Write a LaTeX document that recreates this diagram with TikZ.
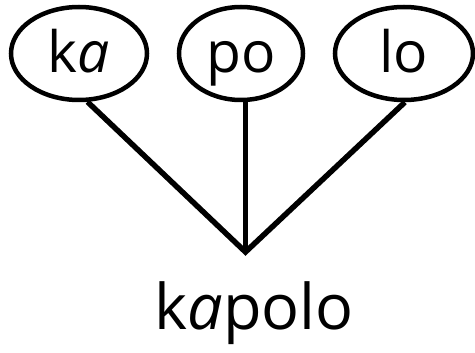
\documentclass[tikz,border=0pt]{standalone}
\usepackage{fontspec}
\setmainfont{Open Sans}
\usetikzlibrary{shapes.geometric}
\begin{document}
\begin{tikzpicture}[x=1pt,y=-1pt,
  syl/.style={draw=black,line width=4.5pt,ellipse,inner sep=0pt,minimum height=93pt,
    text height=44pt,text depth=6pt,font=\fontsize{57}{57}\selectfont},
  link/.style={draw=black,line width=5.5pt}]
\useasboundingbox (0,0) rectangle (475,353);
\node[syl,minimum width=136pt] (ka) at (79,53.5) {k\textit{a}};
\node[syl,minimum width=124pt] (po) at (241,53.5) {po};
\node[syl,minimum width=138pt] (lo) at (404,53.5) {lo};
\coordinate (apex) at (245.5,252);
\node[anchor=base,inner sep=0pt,font=\fontsize{63}{63}\selectfont] (word) at (254,330) {k\textit{a}polo};
\draw[link,line join=miter] (ka.-80) -- (apex) -- (lo.-89);
\draw[link] (po.south -| apex) -- (apex);
\end{tikzpicture}
\end{document}
